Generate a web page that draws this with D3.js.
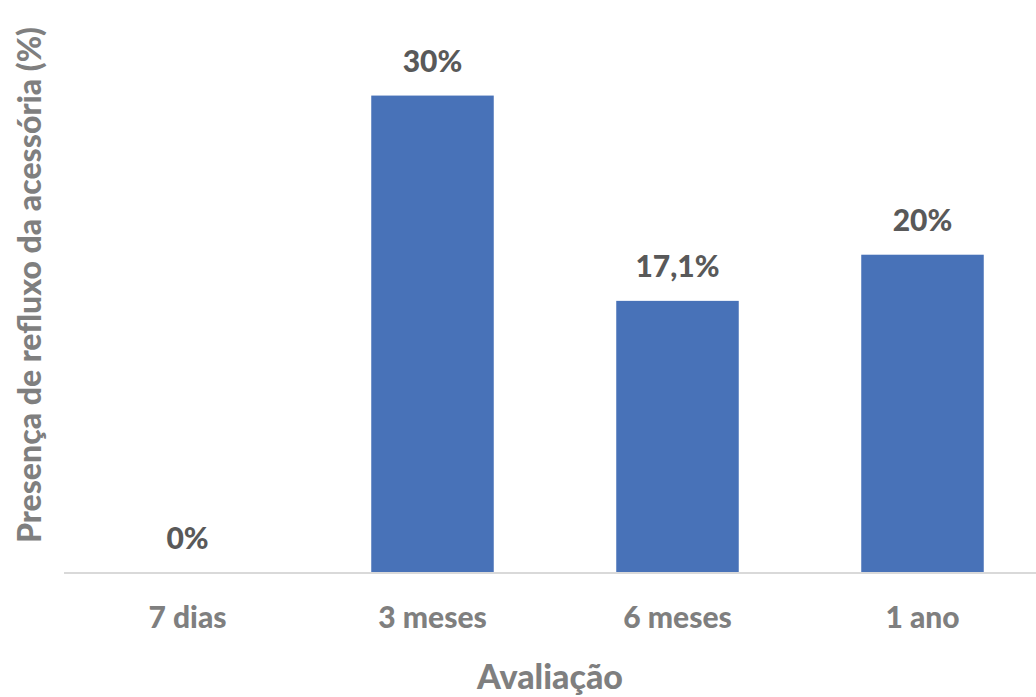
<!DOCTYPE html>
<html><head><meta charset="utf-8">
<script src="https://cdn.jsdelivr.net/npm/d3@7"></script>
<style>body{margin:0;background:#fff}svg{display:block}text{font-family:Lato,"Open Sans",sans-serif;font-weight:900}</style>
</head><body><div id="chart"></div>
<script>
const categories = ["7 dias", "3 meses", "6 meses", "1 ano"];
const values = [0, 30, 17.1, 20];
const valueLabels = ["0%", "30%", "17,1%", "20%"];
const xTitle = "Avaliação";
const yTitle = "Presença de refluxo da acessória (%)";

const W = 1036, H = 697;
const svg = d3.select("#chart").append("svg").attr("width", W).attr("height", H);
const x = d3.scaleBand().domain(categories).range([65, 1045]).paddingInner(0.5).paddingOuter(0.25);
const y = d3.scaleLinear().domain([0, 35]).range([573, 16]);

svg.selectAll("rect.bar").data(values).enter().append("rect")
  .attr("class", "bar")
  .attr("x", (d, i) => x(categories[i]))
  .attr("width", x.bandwidth())
  .attr("y", d => y(d))
  .attr("height", d => y(0) - y(d))
  .attr("fill", "#4872b8");

svg.append("line").attr("x1", 64).attr("x2", W).attr("y1", y(0)).attr("y2", y(0))
  .attr("stroke", "#d9d9d9").attr("stroke-width", 2);

svg.selectAll("text.val").data(values).enter().append("text")
  .attr("class", "val")
  .attr("x", (d, i) => x(categories[i]) + x.bandwidth() / 2)
  .attr("y", d => y(d) - 24)
  .attr("text-anchor", "middle")
  .attr("fill", "#595959").attr("font-size", 30)
  .text((d, i) => valueLabels[i]);

const xAxis = d3.axisBottom(x).tickSize(0).tickPadding(0);
const gx = svg.append("g").attr("transform", `translate(0,${y(0)})`).call(xAxis);
gx.select(".domain").remove();
gx.selectAll("text").attr("font-size", 30).attr("fill", "#7f7f7f")
  .attr("dy", null).attr("y", 55).style("font-family", "Lato").style("font-weight", "900");

svg.append("text").attr("x", 550).attr("y", 689).attr("text-anchor", "middle")
  .attr("fill", "#7f7f7f").attr("font-size", 34).text(xTitle);
svg.append("text").attr("transform", "translate(41,285) rotate(-90)").attr("text-anchor", "middle")
  .attr("fill", "#7f7f7f").attr("font-size", 32).text(yTitle);
</script></body></html>
